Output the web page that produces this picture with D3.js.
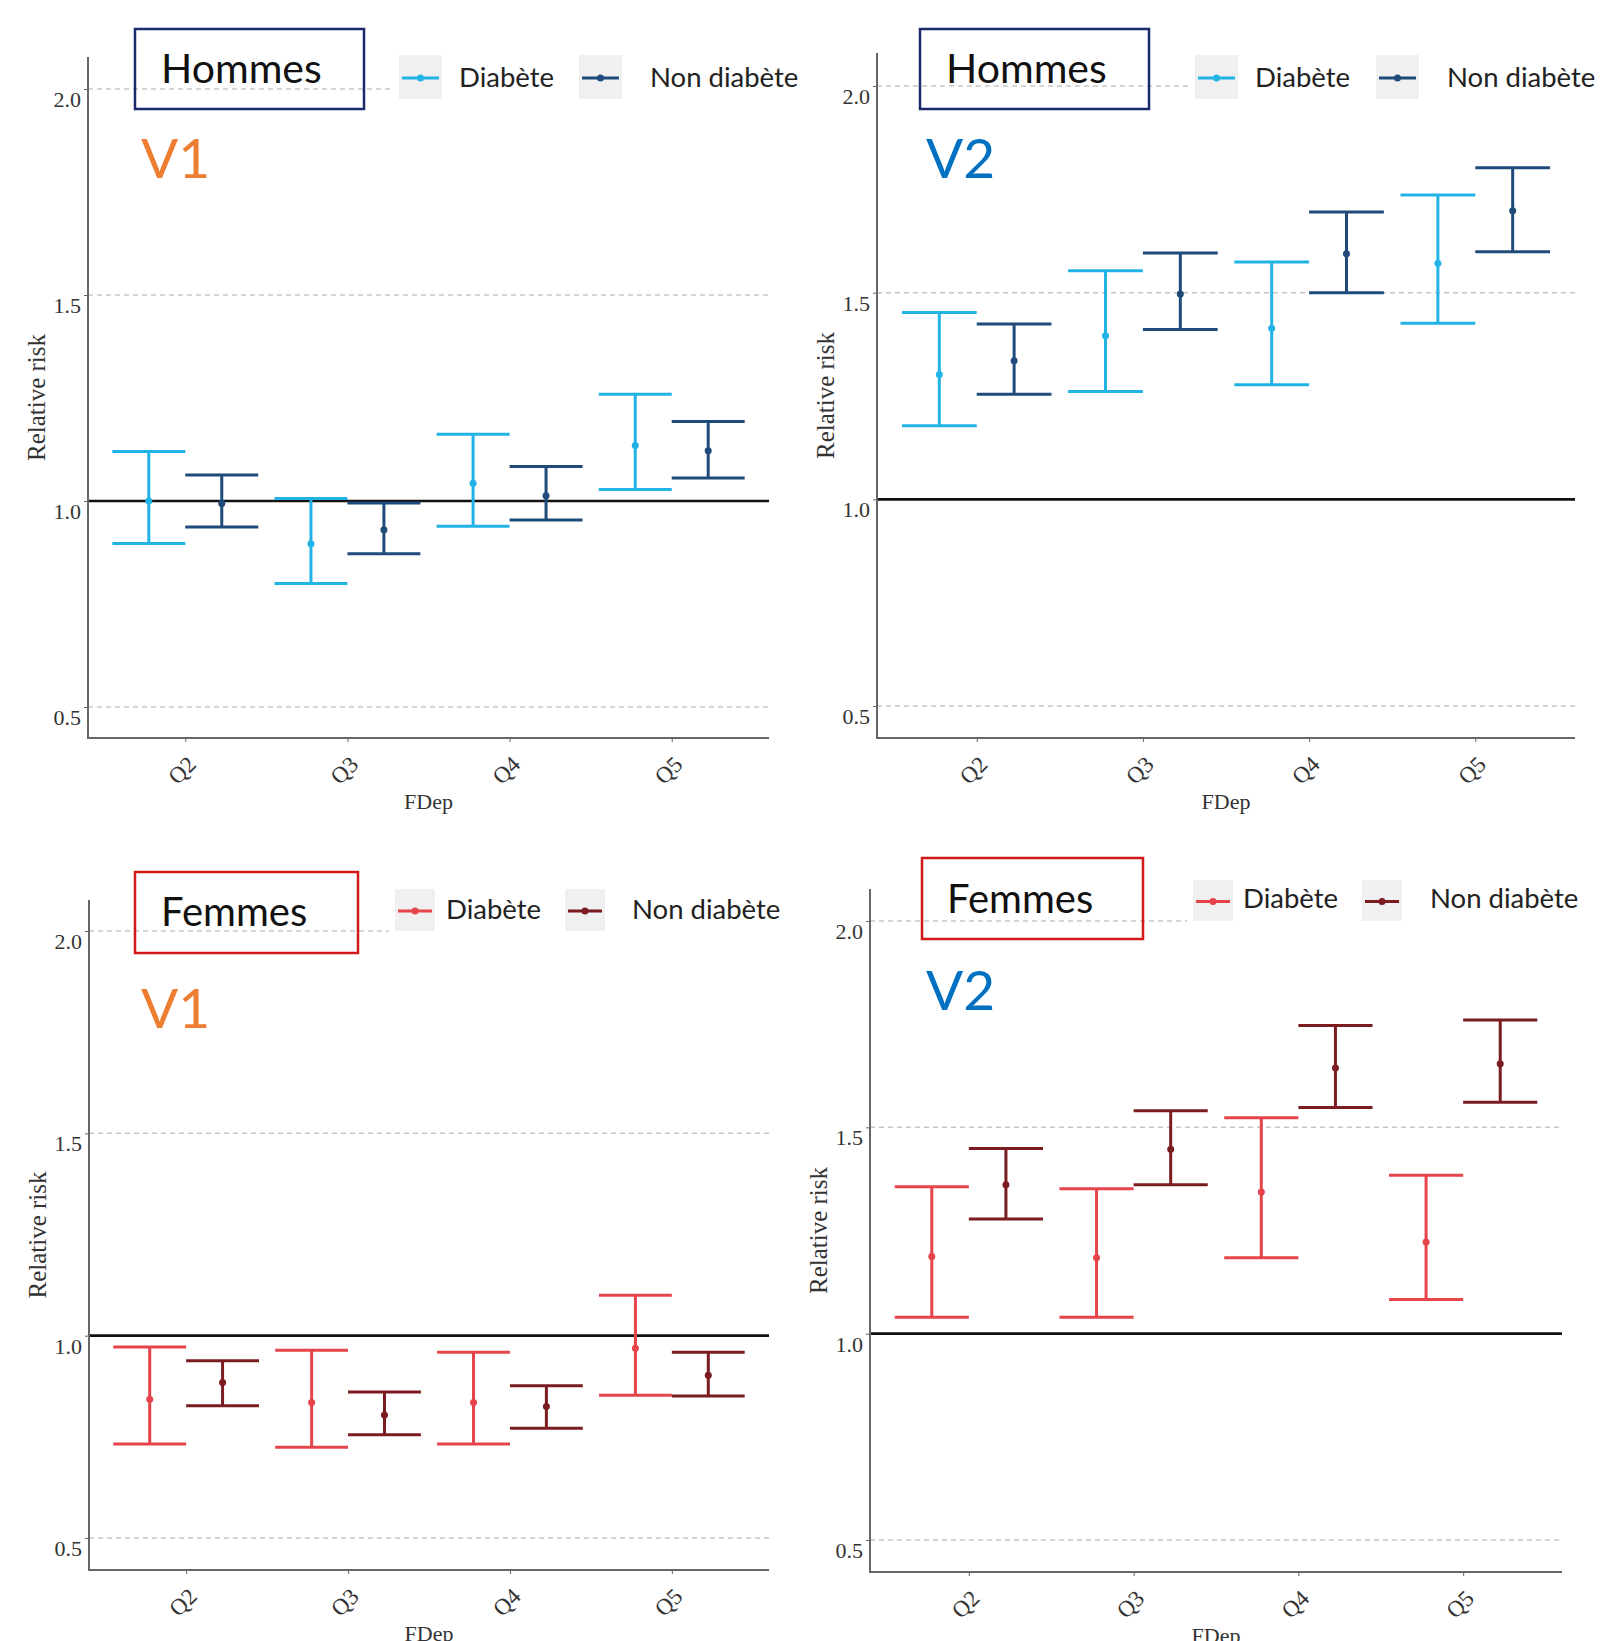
<!DOCTYPE html>
<html>
<head>
<meta charset="utf-8">
<script src="https://cdn.jsdelivr.net/npm/d3@7"></script>
<style>
  body { margin: 0; background: #fff; }
  svg { display: block; }
</style>
</head>
<body>
<script>
// categories and groups
var categories = ["Q2", "Q3", "Q4", "Q5"];
var groups = ["Diabète", "Non diabète"];
var yTicks = [0.5, 1.0, 1.5, 2.0];

// [estimate, lower, upper] per category
var hommesV1Diabete    = [[1.00, 0.897, 1.120], [0.896, 0.800, 1.006], [1.043, 0.939, 1.162], [1.135, 1.028, 1.259]];
var hommesV1NonDiabete = [[0.994, 0.937, 1.063], [0.930, 0.872, 0.995], [1.013, 0.954, 1.084], [1.122, 1.056, 1.193]];
var hommesV2Diabete    = [[1.302, 1.178, 1.452], [1.396, 1.261, 1.553], [1.414, 1.277, 1.574], [1.571, 1.426, 1.736]];
var hommesV2NonDiabete = [[1.335, 1.254, 1.424], [1.497, 1.411, 1.596], [1.594, 1.500, 1.695], [1.698, 1.599, 1.802]];
var femmesV1Diabete    = [[0.843, 0.732, 0.972], [0.835, 0.724, 0.964], [0.835, 0.732, 0.959], [0.969, 0.853, 1.100]];
var femmesV1NonDiabete = [[0.884, 0.827, 0.938], [0.804, 0.755, 0.861], [0.825, 0.771, 0.876], [0.902, 0.851, 0.959]];
var femmesV2Diabete    = [[1.187, 1.040, 1.356], [1.184, 1.040, 1.351], [1.343, 1.184, 1.523], [1.222, 1.083, 1.384]];
var femmesV2NonDiabete = [[1.361, 1.278, 1.449], [1.447, 1.361, 1.540], [1.644, 1.548, 1.747], [1.654, 1.561, 1.760]];

var menColors = ["#22b3e6", "#1f4b7a"];
var womenColors = ["#e4444a", "#7a1c20"];

var svg = d3.select("body").append("svg")
    .attr("width", 1623)
    .attr("height", 1641);

var serif = "'Liberation Serif', 'DejaVu Serif', serif";
var sans = "Lato, 'Open Sans', sans-serif";

var panels = [
    {left: 88, right: 769, top: 57, bottom: 738, y05: 707, y20: 89,
     data: [hommesV1Diabete, hommesV1NonDiabete], colors: menColors,
     box: {x: 135, y: 29, w: 229, h: 80, color: "#1b2a6b", text: "Hommes", tx: 161, ty: 83, size: 41},
     ver: {text: "V1", x: 141, y: 178, color: "#ed7d31"},
     legend: {k1: 399, t1: 459, k2: 579, t2: 650, y: 55, w: 43, h: 44, ty: 87}},
    {left: 877, right: 1575, top: 53, bottom: 738, y05: 706, y20: 86,
     data: [hommesV2Diabete, hommesV2NonDiabete], colors: menColors,
     box: {x: 920, y: 29, w: 229, h: 80, color: "#1b2a6b", text: "Hommes", tx: 946, ty: 83, size: 41},
     ver: {text: "V2", x: 926, y: 178, color: "#0070c0"},
     legend: {k1: 1195, t1: 1255, k2: 1376, t2: 1447, y: 55, w: 43, h: 44, ty: 87}},
    {left: 89, right: 769, top: 900, bottom: 1570, y05: 1538, y20: 931,
     data: [femmesV1Diabete, femmesV1NonDiabete], colors: womenColors,
     box: {x: 135, y: 872, w: 223, h: 81, color: "#d01818", text: "Femmes", tx: 161, ty: 926, size: 40},
     ver: {text: "V1", x: 141, y: 1028, color: "#ed7d31"},
     legend: {k1: 395, t1: 446, k2: 565, t2: 632, y: 889, w: 40, h: 42, ty: 919}},
    {left: 870, right: 1562, top: 889, bottom: 1572, y05: 1540, y20: 921,
     data: [femmesV2Diabete, femmesV2NonDiabete], colors: womenColors,
     box: {x: 922, y: 858, w: 221, h: 81, color: "#d01818", text: "Femmes", tx: 947, ty: 913, size: 40},
     ver: {text: "V2", x: 926, y: 1010, color: "#0070c0"},
     legend: {k1: 1193, t1: 1243, k2: 1362, t2: 1430, y: 880, w: 40, h: 41, ty: 908}}
];

function drawPanel(p) {
    var g = svg.append("g");

    var y = d3.scaleLinear().domain([0.5, 2.0]).range([p.y05, p.y20]);
    var x = d3.scalePoint().domain(categories).range([p.left, p.right]).padding(0.6);
    var step = x.step();
    var half = step * 0.225;

    // dashed grid lines
    g.selectAll(".grid")
        .data(yTicks.filter(function (d) { return d !== 1.0; }))
        .enter().append("line")
        .attr("x1", p.left).attr("x2", p.right)
        .attr("y1", function (d) { return y(d); })
        .attr("y2", function (d) { return y(d); })
        .attr("stroke", "#c6c6c6")
        .attr("stroke-width", 1.5)
        .attr("stroke-dasharray", "5,4");

    // reference line at 1
    g.append("line")
        .attr("x1", p.left).attr("x2", p.right)
        .attr("y1", y(1)).attr("y2", y(1))
        .attr("stroke", "#111")
        .attr("stroke-width", 2.6);

    // y axis
    var yAxis = d3.axisLeft(y)
        .tickValues(yTicks)
        .tickFormat(d3.format(".1f"))
        .tickSize(4)
        .tickPadding(3);
    var ya = g.append("g")
        .attr("transform", "translate(" + p.left + ",0)")
        .call(yAxis);
    ya.select(".domain").remove();
    ya.selectAll(".tick line").attr("stroke", "#666");
    ya.selectAll(".tick text")
        .attr("dy", "0.8em")
        .attr("fill", "#333")
        .style("font-family", serif)
        .style("font-size", "22px");

    // x axis
    var xAxis = d3.axisBottom(x).tickSize(4).tickPadding(0);
    var xa = g.append("g")
        .attr("transform", "translate(0," + p.bottom + ")")
        .call(xAxis);
    xa.select(".domain").remove();
    xa.selectAll(".tick line").attr("stroke", "#666");
    xa.selectAll(".tick text")
        .attr("y", 0).attr("dy", "0.35em")
        .attr("transform", "translate(-4,32) rotate(-45)")
        .attr("text-anchor", "middle")
        .attr("fill", "#333")
        .style("font-family", serif)
        .style("font-size", "23px");

    // axis lines
    g.append("line")
        .attr("x1", p.left).attr("x2", p.left)
        .attr("y1", p.top).attr("y2", p.bottom + 1)
        .attr("stroke", "#666").attr("stroke-width", 2);
    g.append("line")
        .attr("x1", p.left - 1).attr("x2", p.right)
        .attr("y1", p.bottom).attr("y2", p.bottom)
        .attr("stroke", "#666").attr("stroke-width", 2);

    // axis titles
    g.append("text")
        .attr("x", (p.left + p.right) / 2)
        .attr("y", p.bottom + 71)
        .attr("text-anchor", "middle")
        .attr("fill", "#333")
        .style("font-family", serif)
        .style("font-size", "22px")
        .text("FDep");
    g.append("text")
        .attr("transform", "translate(" + (p.left - 43) + "," + ((p.top + p.bottom) / 2) + ") rotate(-90)")
        .attr("text-anchor", "middle")
        .attr("fill", "#333")
        .style("font-family", serif)
        .style("font-size", "25px")
        .text("Relative risk");

    // error bars
    p.data.forEach(function (series, gi) {
        var col = p.colors[gi];
        var off = gi === 0 ? -half : half;
        var bars = g.selectAll(".bar" + gi)
            .data(series)
            .enter().append("g");
        bars.append("line")
            .attr("x1", function (d, i) { return x(categories[i]) + off; })
            .attr("x2", function (d, i) { return x(categories[i]) + off; })
            .attr("y1", function (d) { return y(d[1]); })
            .attr("y2", function (d) { return y(d[2]); })
            .attr("stroke", col).attr("stroke-width", 3);
        [1, 2].forEach(function (k) {
            bars.append("line")
                .attr("x1", function (d, i) { return x(categories[i]) + off - half; })
                .attr("x2", function (d, i) { return x(categories[i]) + off + half; })
                .attr("y1", function (d) { return y(d[k]); })
                .attr("y2", function (d) { return y(d[k]); })
                .attr("stroke", col).attr("stroke-width", 3);
        });
        bars.append("circle")
            .attr("cx", function (d, i) { return x(categories[i]) + off; })
            .attr("cy", function (d) { return y(d[0]); })
            .attr("r", 3.5)
            .attr("fill", col);
    });

    // legend (white background hides the grid line)
    var L = p.legend;
    g.append("rect")
        .attr("x", L.k1 - 6).attr("y", L.y - 4)
        .attr("width", p.right - L.k1 + 6).attr("height", L.h + 8)
        .attr("fill", "#fff");
    [[L.k1, L.t1], [L.k2, L.t2]].forEach(function (pos, gi) {
        var col = p.colors[gi];
        g.append("rect")
            .attr("x", pos[0]).attr("y", L.y)
            .attr("width", L.w).attr("height", L.h)
            .attr("fill", "#f0f0f0");
        g.append("line")
            .attr("x1", pos[0] + 3).attr("x2", pos[0] + L.w - 3)
            .attr("y1", L.y + L.h / 2 + 1).attr("y2", L.y + L.h / 2 + 1)
            .attr("stroke", col).attr("stroke-width", 3);
        g.append("circle")
            .attr("cx", pos[0] + L.w / 2).attr("cy", L.y + L.h / 2 + 1)
            .attr("r", 3.5).attr("fill", col);
        g.append("text")
            .attr("x", pos[1]).attr("y", L.ty)
            .attr("fill", "#222")
            .style("font-family", sans)
            .style("font-size", "27.5px")
            .text(groups[gi]);
    });

    // title box
    var B = p.box;
    g.append("rect")
        .attr("x", B.x).attr("y", B.y)
        .attr("width", B.w).attr("height", B.h)
        .attr("fill", "none")
        .attr("stroke", B.color)
        .attr("stroke-width", 2.5);
    g.append("text")
        .attr("x", B.tx).attr("y", B.ty)
        .attr("fill", "#111")
        .style("font-family", sans)
        .style("font-size", B.size + "px")
        .text(B.text);

    // version label
    g.append("text")
        .attr("x", p.ver.x).attr("y", p.ver.y)
        .attr("fill", p.ver.color)
        .style("font-family", sans)
        .style("font-size", "55px")
        .text(p.ver.text);
}

panels.forEach(drawPanel);
</script>
</body>
</html>
